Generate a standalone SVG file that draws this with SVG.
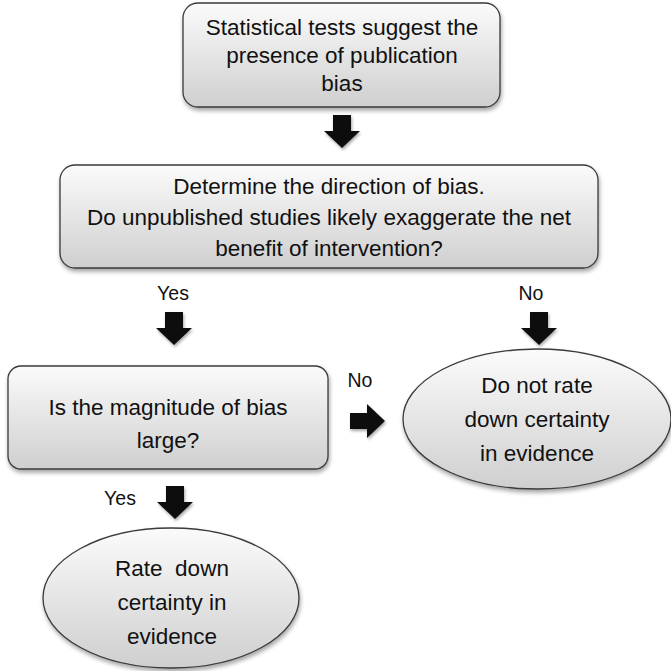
<svg xmlns="http://www.w3.org/2000/svg" width="671" height="671" viewBox="0 0 671 671">
<style>
.box{fill:url(#g);stroke:#3a3a3a;stroke-width:1.3;filter:url(#sh)}
.t{font-family:"Liberation Sans",Arial,sans-serif;font-size:22.5px;fill:#111;text-anchor:middle;white-space:pre}
.l{font-family:"Liberation Sans",Arial,sans-serif;font-size:19.5px;fill:#111;text-anchor:middle}
.arr{fill:#111;filter:url(#sh2)}
</style>
<defs>
<linearGradient id="g" x1="0" y1="0" x2="0" y2="1">
<stop offset="0" stop-color="#fbfbfb"/>
<stop offset="1" stop-color="#cfcfcf"/>
</linearGradient>
<filter id="sh" x="-10%" y="-10%" width="120%" height="130%">
<feDropShadow dx="1" dy="3" stdDeviation="2" flood-color="#000" flood-opacity="0.35"/>
</filter>
<filter id="sh2" x="-30%" y="-30%" width="160%" height="160%">
<feDropShadow dx="1" dy="2" stdDeviation="1.5" flood-color="#000" flood-opacity="0.35"/>
</filter>
<path id="down" d="M-9,0 H9 V16 H18 L0,33 L-18,16 H-9 Z"/>
</defs>
<g id="n1">
<rect class="box" x="183" y="3" width="317" height="104" rx="15"/>
<text class="t" x="342" y="35">Statistical tests suggest the</text>
<text class="t" x="342" y="63">presence of publication</text>
<text class="t" x="342" y="91">bias</text>
</g>
<g id="n2">
<rect class="box" x="60" y="165" width="538" height="103" rx="15"/>
<text class="t" x="329" y="194">Determine the direction of bias.</text>
<text class="t" x="329" y="225">Do unpublished studies likely exaggerate the net</text>
<text class="t" x="329" y="256">benefit of intervention?</text>
</g>
<g id="n3">
<rect class="box" x="8" y="366" width="320" height="103" rx="13"/>
<text class="t" x="168" y="415">Is the magnitude of bias</text>
<text class="t" x="168" y="448">large?</text>
</g>
<g id="n4">
<ellipse class="box" cx="537" cy="419" rx="134" ry="70"/>
<text class="t" x="537" y="393">Do not rate</text>
<text class="t" x="537" y="427">down certainty</text>
<text class="t" x="537" y="461">in evidence</text>
</g>
<g id="n5">
<ellipse class="box" cx="171" cy="598" rx="128" ry="70"/>
<text class="t" x="172" y="576">Rate  down</text>
<text class="t" x="172" y="610">certainty in</text>
<text class="t" x="172" y="644">evidence</text>
</g>
<g id="connectors">
<use class="arr" href="#down" x="342" y="115"/>
<use class="arr" href="#down" x="174" y="312"/>
<use class="arr" href="#down" x="539" y="312"/>
<use class="arr" href="#down" x="175" y="486"/>
<path class="arr" d="M350,413 H367 V404 L385,421 L367,438 V429 H350 Z"/>
<text class="l" x="173" y="300">Yes</text>
<text class="l" x="531" y="300">No</text>
<text class="l" x="360" y="387">No</text>
<text class="l" x="120" y="505">Yes</text>
</g>
</svg>
